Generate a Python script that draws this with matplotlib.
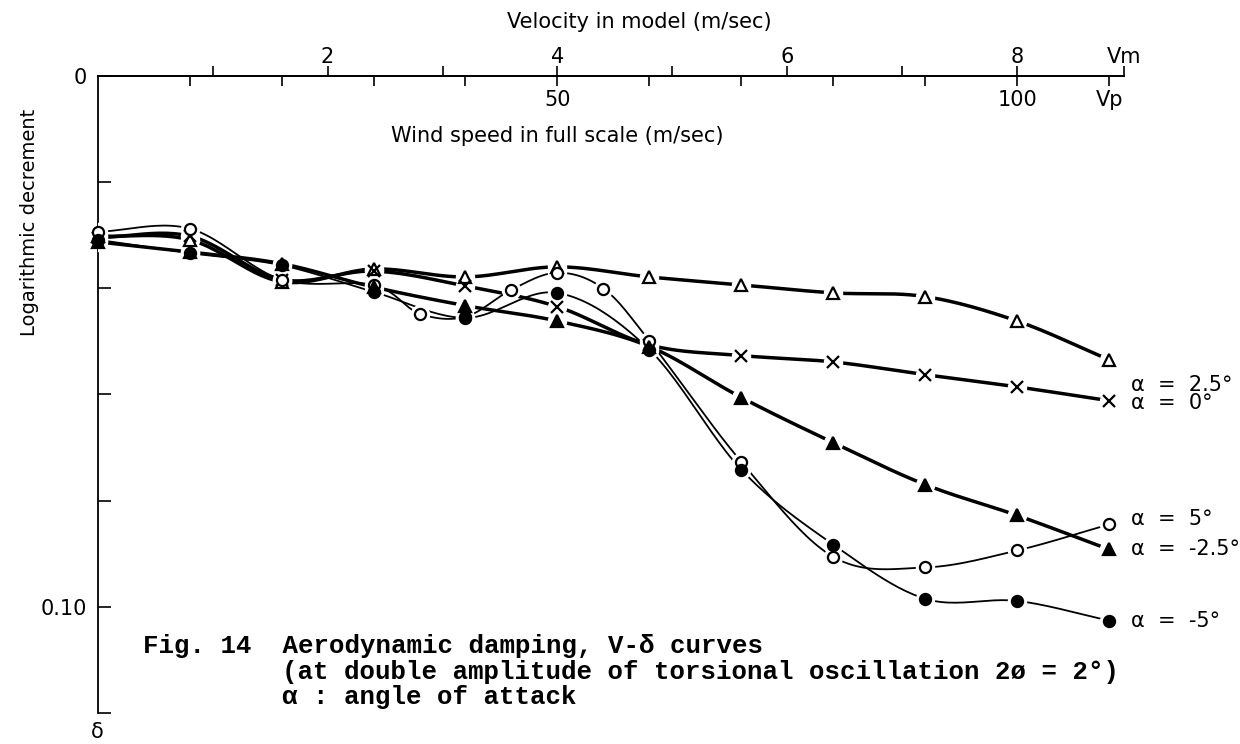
import numpy as np
import matplotlib
matplotlib.use('Agg')
import matplotlib.pyplot as plt

# wind speed in full scale (m/sec) of the measured points
v_full = [0, 10, 20, 30, 40, 50, 60, 70, 80, 90, 100, 110]
v_full_a5 = [0, 10, 20, 30, 35, 40, 45, 50, 55, 60, 70, 80, 90, 100, 110]
scale_ratio = 12.5  # full scale / model velocity

# logarithmic decrement
delta_a25 = [0.0302, 0.0309, 0.0388, 0.0364, 0.0379, 0.0360, 0.0379, 0.0394,
             0.0409, 0.0416, 0.0462, 0.0535]
delta_a0 = [0.0305, 0.0302, 0.0384, 0.0368, 0.0396, 0.0435, 0.0507, 0.0527,
            0.0539, 0.0563, 0.0586, 0.0612]
delta_a5 = [0.0294, 0.0288, 0.0384, 0.0394, 0.0448, 0.0454, 0.0403, 0.0371,
            0.0401, 0.0499, 0.0727, 0.0906, 0.0926, 0.0894, 0.0845]
delta_am25 = [0.0313, 0.0332, 0.0354, 0.0398, 0.0433, 0.0462, 0.0510, 0.0606,
              0.0691, 0.0770, 0.0828, 0.0892]
delta_am5 = [0.0309, 0.0334, 0.0357, 0.0407, 0.0456, 0.0409, 0.0516, 0.0742,
             0.0883, 0.0985, 0.0989, 0.1026]

model_ticks = [1, 2, 3, 4, 5, 6, 7, 8, 8.93]
model_labels = ['', '2', '', '4', '', '6', '', '8', 'Vm']
full_ticks = [10, 20, 30, 40, 50, 60, 70, 80, 90, 100, 110]
full_labels = {50: '50', 100: '100', 110: 'Vp'}


def smooth(x, y, n=24):
    # catmull-rom curve through the points, like a french curve drawing
    x = np.asarray(x, float)
    y = np.asarray(y, float)
    px = np.concatenate([[2 * x[0] - x[1]], x, [2 * x[-1] - x[-2]]])
    py = np.concatenate([[2 * y[0] - y[1]], y, [2 * y[-1] - y[-2]]])
    t = np.linspace(0, 1, n, endpoint=False)
    xs, ys = [], []
    for i in range(1, len(px) - 2):
        for p, out in ((px, xs), (py, ys)):
            p0, p1, p2, p3 = p[i - 1], p[i], p[i + 1], p[i + 2]
            out.append(0.5 * (2 * p1 + (-p0 + p2) * t
                              + (2 * p0 - 5 * p1 + 4 * p2 - p3) * t ** 2
                              + (-p0 + 3 * p1 - 3 * p2 + p3) * t ** 3))
    xs.append([x[-1]])
    ys.append([y[-1]])
    return np.concatenate(xs), np.concatenate(ys)


series = [
    # x, y, marker, face, linewidth, label, label offset (pt)
    (v_full, delta_a25, '^', 'white', 2.5, 'α  =  2.5°', -18),
    (v_full, delta_a0, 'x', 'black', 2.5, 'α  =  0°', -2),
    (v_full_a5, delta_a5, 'o', 'white', 1.3, 'α  =  5°', 4),
    (v_full, delta_am25, '^', 'black', 2.5, 'α  =  -2.5°', 0),
    (v_full, delta_am5, 'o', 'black', 1.3, 'α  =  -5°', 0),
]

fig = plt.figure(figsize=(12.4, 7.44), dpi=100)
ax = fig.add_axes([0.0788, 0.0417, 0.8277, 0.8566])
ax.set_xlim(0, 8.93 * scale_ratio)
ax.set_ylim(0.12, 0)

for x, y, mk, face, lw, lab, dy in series:
    sx, sy = smooth(x, y)
    ax.plot(sx, sy, color='black', lw=lw, zorder=2, solid_capstyle='round')
    ax.plot(x, y, ls='none', marker='o', ms=13, mfc='white', mec='white', zorder=3)
    ax.plot(x, y, ls='none', marker=mk, ms=8, mfc=face, mec='black',
            mew=1.6, zorder=4, clip_on=False)
    ax.annotate(lab, xy=(x[-1], y[-1]), xytext=(16, dy), textcoords='offset points',
                ha='left', va='center', fontsize=15, annotation_clip=False)

for s in ['right', 'bottom']:
    ax.spines[s].set_visible(False)
for s in ['top', 'left']:
    ax.spines[s].set_linewidth(1.3)

# full scale ticks point down into the plot
ax.xaxis.tick_top()
ax.set_xticks(full_ticks)
ax.tick_params(axis='x', direction='in', length=7, width=1.2, labeltop=False)
for v, s in full_labels.items():
    ax.text(v, 0.962, s, transform=ax.get_xaxis_transform(), ha='center',
            va='center', fontsize=15)
ax.text(50, 0.906, 'Wind speed in full scale (m/sec)',
        transform=ax.get_xaxis_transform(), ha='center', va='center', fontsize=15)

# model velocity ticks point up
secax = ax.secondary_xaxis('top', functions=(lambda v: v / scale_ratio,
                                             lambda m: m * scale_ratio))
secax.set_xticks(model_ticks, model_labels)
secax.tick_params(direction='out', length=7, width=1.2, pad=-1, labelsize=15)
secax.spines['top'].set_linewidth(1.3)
ax.text(0.528, 1.084, 'Velocity in model (m/sec)', transform=ax.transAxes,
        ha='center', va='center', fontsize=15)

ax.set_yticks([0, 0.02, 0.04, 0.06, 0.08, 0.10, 0.12],
              ['0', '', '', '', '', '0.10', ''])
ax.tick_params(axis='y', direction='in', length=9, width=1.2, pad=8, labelsize=15)
ax.set_ylabel('Logarithmic decrement', fontsize=14)
ax.yaxis.set_label_coords(-0.057, 0.77)
ax.text(0, -0.03, 'δ', transform=ax.transAxes, ha='center', va='center', fontsize=15)

cap = dict(family=['Liberation Mono', 'DejaVu Sans Mono'], fontsize=18.5,
           fontweight='bold', va='center', ha='left')
fig.text(143 / 1240, 1 - 646 / 744, 'Fig. 14  Aerodynamic damping, V-δ curves', **cap)
fig.text(282 / 1240, 1 - 672 / 744,
         '(at double amplitude of torsional oscillation 2ø = 2°)', **cap)
fig.text(282 / 1240, 1 - 697 / 744, 'α : angle of attack', **cap)

fig.savefig('out.png', dpi=100)
